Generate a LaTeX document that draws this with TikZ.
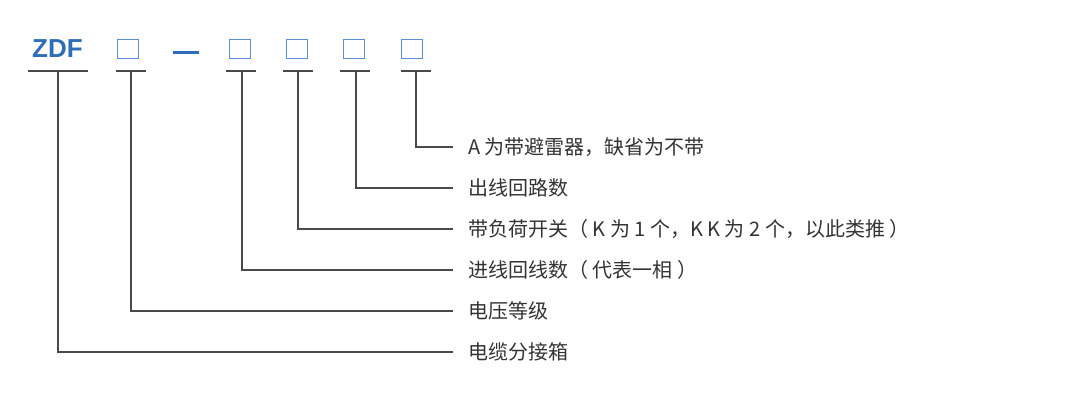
\documentclass[tikz,border=0pt]{standalone}
\usepackage{fontspec}
\setmainfont{Liberation Sans}
\newfontfamily\cjk{Noto Sans CJK SC}
\definecolor{zdfblue}{HTML}{2E6DB8}
\definecolor{boxblue}{HTML}{5B8FD2}
\definecolor{linegray}{HTML}{4A4A4A}
\definecolor{textgray}{HTML}{333333}
\begin{document}
\begin{tikzpicture}[x=1pt,y=-1pt,
  codebox/.style={draw=boxblue, line width=1.4pt, minimum width=21.5pt, minimum height=19.5pt, inner sep=0pt},
  barline/.style={draw=linegray, line width=1.5pt},
  leadline/.style={draw=linegray, line width=1.2pt},
  desc/.style={anchor=base west, inner sep=0pt, font=\cjk\fontsize{20}{24}\selectfont, text=textgray}]
\useasboundingbox (0,0) rectangle (1080,400);
% code text
\node[anchor=center, inner sep=0pt, font=\bfseries\fontsize{26}{30}\selectfont, text=zdfblue] (zdf) at (57.5,49) {ZDF};
\node[codebox] (b1) at (128,49) {};
\coordinate (dashL) at (173,52);
\coordinate (dashR) at (199,52);
\draw[draw=zdfblue, line width=3pt] (dashL) -- (dashR);
\node[codebox] (b2) at (240,49) {};
\node[codebox] (b3) at (297,49) {};
\node[codebox] (b4) at (354,49) {};
\node[codebox] (b5) at (412,49) {};
% bars
\coordinate (s0) at (58,71);
\coordinate (s1) at (131,71);
\coordinate (s2) at (242,71);
\coordinate (s3) at (298,71);
\coordinate (s4) at (356,71);
\coordinate (s5) at (416,71);
\draw[barline] (28,71) -- (88,71);
\draw[barline] (116,71) -- (146,71);
\draw[barline] (226,71) -- (256,71);
\draw[barline] (283,71) -- (313,71);
\draw[barline] (340,71) -- (370,71);
\draw[barline] (401,71) -- (431,71);
% labels
\node[desc] (l5) at (468,154) {A 为带避雷器，缺省为不带};
\node[desc] (l4) at (468,195) {出线回路数};
\node[desc] (l3) at (468,236) {带负荷开关（ K 为 1 个，K K 为 2 个，以此类推 ）};
\node[desc] (l2) at (468,277) {进线回线数（ 代表一相 ）};
\node[desc] (l1) at (468,318) {电压等级};
\node[desc] (l0) at (468,359) {电缆分接箱};
\coordinate (e5) at (453,147);
\coordinate (e4) at (453,188);
\coordinate (e3) at (453,229);
\coordinate (e2) at (453,270);
\coordinate (e1) at (453,311);
\coordinate (e0) at (453,352);
% leaders
\draw[leadline] (s5) |- (e5);
\draw[leadline] (s4) |- (e4);
\draw[leadline] (s3) |- (e3);
\draw[leadline] (s2) |- (e2);
\draw[leadline] (s1) |- (e1);
\draw[leadline] (s0) |- (e0);
\end{tikzpicture}
\end{document}
